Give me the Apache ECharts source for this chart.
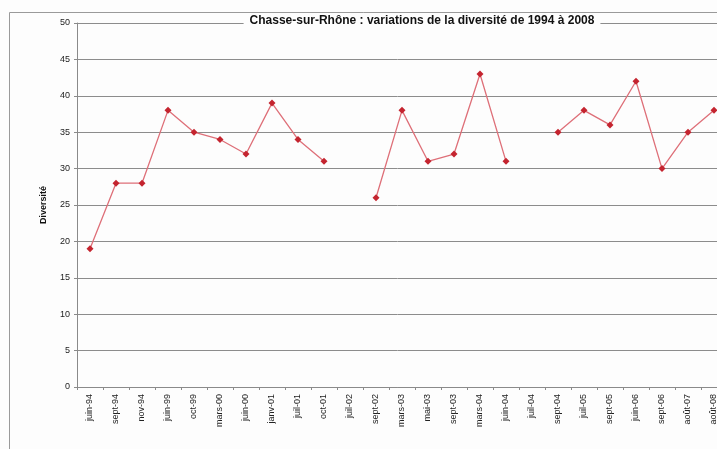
<!DOCTYPE html>
<html>
<head>
<meta charset="utf-8">
<script src="https://cdn.jsdelivr.net/npm/echarts@6/dist/echarts.min.js"></script>
<style>
  html, body { margin: 0; padding: 0; background: #fdfdfd; }
  #chart { width: 717px; height: 449px; }
</style>
</head>
<body>
<div id="chart"></div>
<script>
// dates des relevés
const categories = ['juin-94', 'sept-94', 'nov-94', 'juin-99', 'oct-99', 'mars-00', 'juin-00',
    'janv-01', 'juil-01', 'oct-01', 'juil-02', 'sept-02', 'mars-03', 'mai-03', 'sept-03',
    'mars-04', 'juin-04', 'juil-04', 'sept-04', 'juil-05', 'sept-05', 'juin-06', 'sept-06',
    'août-07', 'août-08'];
// diversité (null = pas de relevé)
const diversite = [19, 28, 28, 38, 35, 34, 32, 39, 34, 31, null, 26, 38, 31, 32, 43, 31, null,
    35, 38, 36, 42, 30, 35, 38];
const yTicks = [0, 50, 5];

const chart = echarts.init(document.getElementById('chart'));

const option = {
    backgroundColor: '#fdfdfd',
    animation: false,
    //cadre extérieur
    graphic: [{
        type: 'rect',
        shape: { x: 9.5, y: 12.5, width: 740, height: 460 },
        style: { fill: 'none', stroke: '#9a9a9a', lineWidth: 1 },
        z: -10
    }],
    title: {
        text: 'Chasse-sur-Rhône : variations de la diversité de 1994 à 2008',
        left: 416,
        top: 15,
        textAlign: 'center',
        backgroundColor: '#fdfdfd',
        padding: [0, 6],
        textStyle: {
            fontFamily: 'Liberation Sans',
            fontSize: 12,
            fontWeight: 'bold',
            color: '#111'
        }
    },
    grid: {
        left: 77,
        right: -10,
        top: 23,
        bottom: 62,
        outerBoundsMode: 'none'
    },
    xAxis: {
        type: 'category',
        data: categories,
        boundaryGap: true,
        axisLine: { lineStyle: { color: '#8a8a8a' } },
        axisTick: { show: true, length: 3, lineStyle: { color: '#8a8a8a' } },
        axisLabel: {
            rotate: 90,
            interval: 0,
            margin: 7,
            fontFamily: 'Liberation Sans',
            fontSize: 9,
            color: '#222'
        }
    },
    yAxis: {
        type: 'value',
        min: yTicks[0],
        max: yTicks[1],
        interval: yTicks[2],
        name: 'Diversité',
        nameLocation: 'middle',
        nameGap: 29,
        nameRotate: 90,
        nameTextStyle: {
            fontFamily: 'Liberation Sans',
            fontSize: 9,
            fontWeight: 'bold',
            color: '#111'
        },
        axisLine: { show: true, lineStyle: { color: '#8a8a8a' } },
        axisTick: { show: true, length: 3, lineStyle: { color: '#8a8a8a' } },
        axisLabel: {
            margin: 7,
            fontFamily: 'Liberation Sans',
            fontSize: 9,
            color: '#222'
        },
        splitLine: { lineStyle: { color: '#8c8c8c', width: 1 } }
    },
    series: [{
        name: 'Diversité',
        type: 'line',
        data: diversite,
        connectNulls: false,
        symbol: 'diamond',
        symbolSize: 7,
        lineStyle: { color: '#de6f78', width: 1.3 },
        itemStyle: { color: '#c4242f' }
    }]
};

chart.setOption(option);
</script>
</body>
</html>
